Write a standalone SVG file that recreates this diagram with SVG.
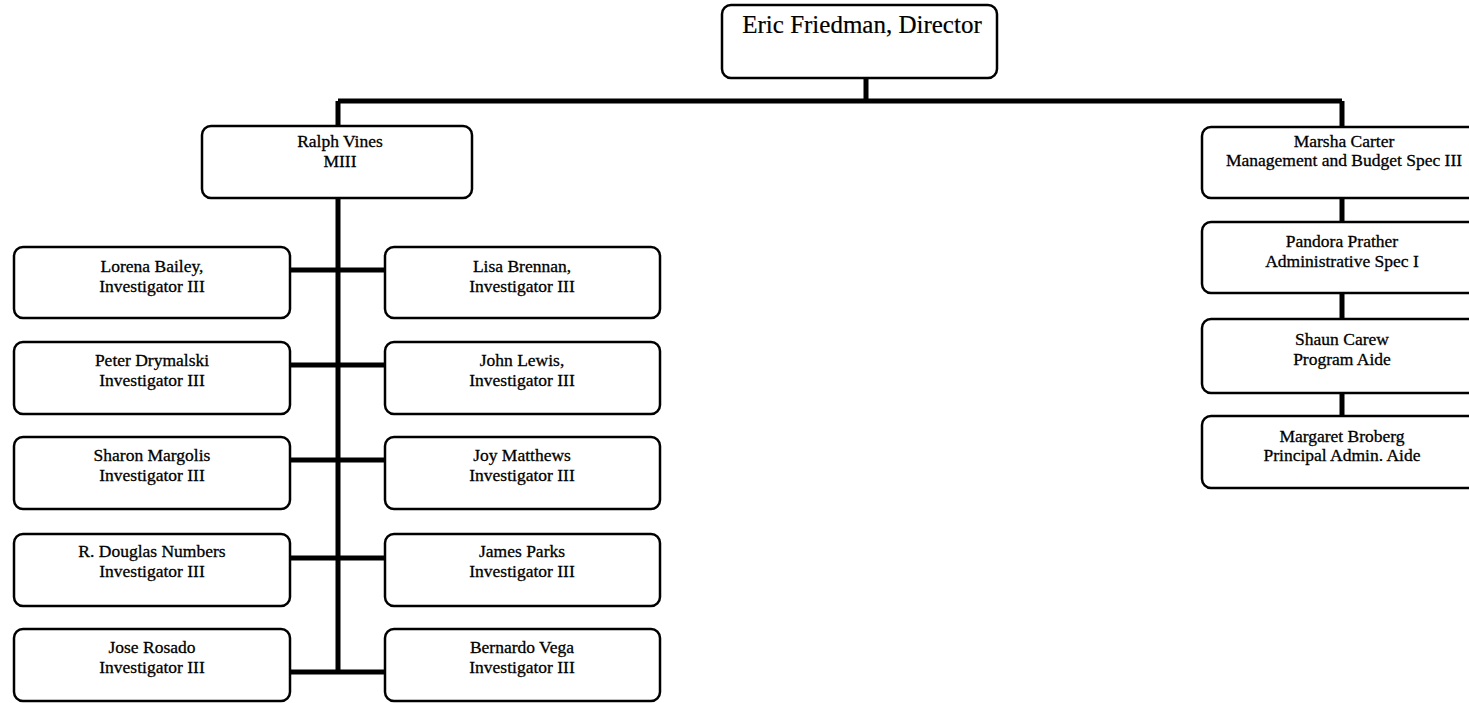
<svg xmlns="http://www.w3.org/2000/svg" width="1469" height="703" viewBox="0 0 1469 703">
<style>
.box{fill:#fff;stroke:#000;stroke-width:2.5}
.t{font-family:"Liberation Serif","Times New Roman",serif;font-size:17.5px;fill:#000;text-anchor:middle;stroke:#000;stroke-width:0.3}
.big{font-size:25px;stroke-width:0.2}
.c{stroke:#000;stroke-width:5;fill:none}
</style>
<rect width="1469" height="703" fill="#fff"/>
<g id="connectors">
<path class="c" d="M866 78V101M338 101H1342M338 101V126M1342 101V127"/>
<path class="c" d="M338 198V672"/>
<path class="c" d="M290 270H385M290 365H385M290 460H385M290 558H385M290 672H385"/>
<path class="c" d="M1342 198V222M1342 293V319M1342 393V416"/>
</g>
<g id="director"><rect class="box" x="722" y="5" width="275" height="73" rx="9"/><text class="t big" x="862" y="33">Eric Friedman, Director</text></g>
<g id="vines"><rect class="box" x="202" y="126" width="270" height="72" rx="9"/><text class="t" x="340" y="147">Ralph Vines</text><text class="t" x="340" y="167">MIII</text></g>
<g id="bailey"><rect class="box" x="14" y="247" width="276" height="71" rx="9"/><text class="t" x="152" y="272">Lorena Bailey,</text><text class="t" x="152" y="292">Investigator III</text></g>
<g id="drymalski"><rect class="box" x="14" y="342" width="276" height="72" rx="9"/><text class="t" x="152" y="366">Peter Drymalski</text><text class="t" x="152" y="386">Investigator III</text></g>
<g id="margolis"><rect class="box" x="14" y="437" width="276" height="72" rx="9"/><text class="t" x="152" y="461">Sharon Margolis</text><text class="t" x="152" y="481">Investigator III</text></g>
<g id="numbers"><rect class="box" x="14" y="534" width="276" height="72" rx="9"/><text class="t" x="152" y="557">R. Douglas Numbers</text><text class="t" x="152" y="577">Investigator III</text></g>
<g id="rosado"><rect class="box" x="14" y="629" width="276" height="72" rx="9"/><text class="t" x="152" y="653">Jose Rosado</text><text class="t" x="152" y="673">Investigator III</text></g>
<g id="brennan"><rect class="box" x="385" y="247" width="275" height="71" rx="9"/><text class="t" x="522" y="272">Lisa Brennan,</text><text class="t" x="522" y="292">Investigator III</text></g>
<g id="lewis"><rect class="box" x="385" y="342" width="275" height="72" rx="9"/><text class="t" x="522" y="366">John Lewis,</text><text class="t" x="522" y="386">Investigator III</text></g>
<g id="matthews"><rect class="box" x="385" y="437" width="275" height="72" rx="9"/><text class="t" x="522" y="461">Joy Matthews</text><text class="t" x="522" y="481">Investigator III</text></g>
<g id="parks"><rect class="box" x="385" y="534" width="275" height="72" rx="9"/><text class="t" x="522" y="557">James Parks</text><text class="t" x="522" y="577">Investigator III</text></g>
<g id="vega"><rect class="box" x="385" y="629" width="275" height="72" rx="9"/><text class="t" x="522" y="653">Bernardo Vega</text><text class="t" x="522" y="673">Investigator III</text></g>
<g id="carter"><rect class="box" x="1202" y="127" width="285" height="71" rx="9"/><text class="t" x="1344" y="147">Marsha Carter</text><text class="t" x="1344" y="166">Management and Budget Spec III</text></g>
<g id="prather"><rect class="box" x="1202" y="222" width="285" height="71" rx="9"/><text class="t" x="1342" y="247">Pandora Prather</text><text class="t" x="1342" y="267">Administrative Spec I</text></g>
<g id="carew"><rect class="box" x="1202" y="319" width="285" height="74" rx="9"/><text class="t" x="1342" y="345">Shaun Carew</text><text class="t" x="1342" y="365">Program Aide</text></g>
<g id="broberg"><rect class="box" x="1202" y="416" width="285" height="72" rx="9"/><text class="t" x="1342" y="442">Margaret Broberg</text><text class="t" x="1342" y="461">Principal Admin. Aide</text></g>
</svg>
